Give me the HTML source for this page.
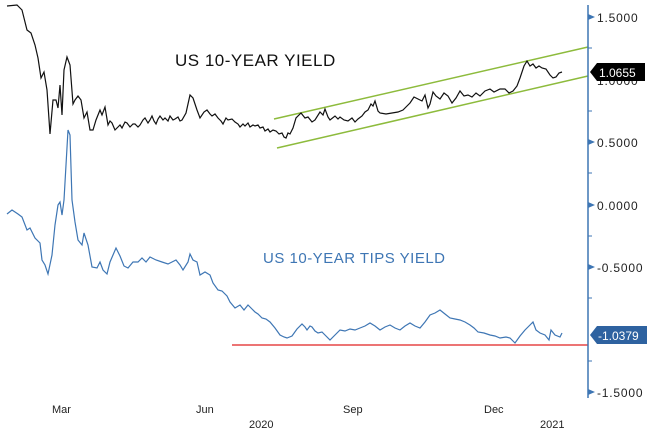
<!DOCTYPE html>
<html><head><style>body{margin:0;background:#fff}svg{display:block}</style></head><body>
<svg width="650" height="436" xmlns="http://www.w3.org/2000/svg" font-family="Liberation Sans, DejaVu Sans, sans-serif">
<rect width="650" height="436" fill="#fff"/>
<line x1="274" y1="119" x2="588" y2="47" stroke="#8dbb3c" stroke-width="1.5"/>
<line x1="277" y1="148" x2="588" y2="76" stroke="#8dbb3c" stroke-width="1.5"/>
<line x1="232" y1="345" x2="588" y2="345" stroke="#e02020" stroke-width="1.2"/>
<polyline fill="none" stroke="#111" stroke-width="1.2" points="7,6 17,5 22,10 27,30 31,33 35,45 38,58 41,78 44,72 47,90 50,134 53,100 56,100 58,108 60,85 62,115 64,70 67,57 70,65 73,104 75,100 78,96 81,100 84,118 87,112 90,130 93,130 96,120 100,110 102,115 105,107 108,125 110,121 112,123 115,130 118,127 120,125 122,128 125,122 127,123 130,127 133,124 135,124 138,127 140,125 143,120 145,118 148,123 150,120 152,116 154,121 156,124 158,119 160,116 163,120 165,118 168,121 170,116 173,120 175,119 178,117 180,121 182,120 186,113 190,95 193,98 197,110 200,118 204,112 207,110 210,114 212,116 215,114 218,118 221,121 223,124 226,118 228,120 232,119 235,122 238,124 240,127 243,124 245,126 248,123 250,127 253,125 255,126 258,125 260,128 263,127 265,131 268,129 270,132 273,130 276,131 279,134 282,133 284,137 286,138 288,133 290,134 293,128 296,118 301,113 305,118 308,117 312,122 315,120 320,112 323,115 325,109 328,117 330,120 335,116 338,119 340,117 344,120 348,121 352,118 355,122 358,119 362,116 365,112 368,110 371,104 373,106 375,101 378,111 380,113 386,114 392,113 398,112 403,110 407,106 410,103 414,97 418,99 422,101 425,95 428,108 430,104 433,92 436,96 440,99 444,93 448,96 452,103 456,98 460,91 464,96 468,95 472,97 476,93 480,96 485,91 490,89 494,92 500,89 505,89 509,93 513,91 517,86 520,78 524,66 527,61 530,66 533,64 536,68 539,66 542,68 546,69 550,75 553,78 556,77 559,73 562,72"/>
<polyline fill="none" stroke="#3e76b4" stroke-width="1.2" points="7,214 12,210 18,214 22,217 27,230 30,228 35,238 40,243 42,260 45,265 48,274 52,255 55,225 58,205 60,202 62,215 64,200 66,165 68,130 70,135 72,200 75,222 78,240 82,245 84,233 88,245 92,267 97,268 100,262 103,270 107,274 110,262 116,248 120,256 124,266 128,268 133,262 138,262 142,258 146,262 150,257 156,260 162,262 168,264 172,262 176,260 180,265 183,270 188,262 190,254 193,260 197,262 200,275 205,272 210,275 213,283 218,290 222,291 227,296 230,302 235,308 240,305 244,310 248,305 252,309 255,312 258,314 262,318 266,319 270,322 275,328 280,335 284,337 287,338 292,336 297,329 302,324 305,327 307,330 310,326 312,327 315,331 318,333 322,332 326,336 330,340 335,335 340,330 345,331 350,329 355,330 360,328 365,326 370,323 375,326 380,330 385,327 390,325 395,328 400,330 405,326 410,323 415,326 420,328 425,322 430,315 435,313 440,310 445,314 450,318 455,319 460,320 465,322 470,325 474,328 478,332 484,333 490,335 495,336 500,338 506,337 510,338 515,343 520,336 525,330 530,325 533,322 536,330 540,333 545,335 549,340 551,330 555,335 560,337 562,333"/>
<line x1="588" y1="5" x2="588" y2="398" stroke="#3e76b4" stroke-width="1.5"/>
<g fill="#3e76b4">
<polygon points="588,14 595,17 588,20"/><polygon points="588,139 595,142 588,145"/><polygon points="588,202 595,205 588,208"/><polygon points="588,264 595,267 588,270"/><polygon points="588,389 595,392 588,395"/>
</g>
<g stroke="#3e76b4"><line x1="588" y1="48" x2="592" y2="48"/><line x1="588" y1="111" x2="592" y2="111"/><line x1="588" y1="173" x2="592" y2="173"/><line x1="588" y1="236" x2="592" y2="236"/><line x1="588" y1="298" x2="592" y2="298"/><line x1="588" y1="361" x2="592" y2="361"/></g>
<g font-size="12" fill="#222" letter-spacing="0.8">
<text x="597" y="22">1.5000</text><text x="597" y="85">1.0000</text><text x="597" y="147">0.5000</text><text x="597" y="210">0.0000</text><text x="597" y="272">-0.5000</text><text x="597" y="397">-1.5000</text>
</g>
<polygon points="590,72 597,63 645,63 645,81 597,81" fill="#000"/>
<text x="599" y="77" font-size="12" fill="#fff">1.0655</text>
<polygon points="590,335 597,326 647,326 647,344 597,344" fill="#2e62a0"/>
<text x="598" y="340" font-size="12" fill="#fff">-1.0379</text>
<text x="175" y="66" font-size="17" fill="#111" letter-spacing="0.5">US 10-YEAR YIELD</text>
<text x="263" y="263" font-size="15" fill="#3e76b4" letter-spacing="0.5">US 10-YEAR TIPS YIELD</text>
<g font-size="11" fill="#222">
<text x="52" y="413">Mar</text><text x="196" y="413">Jun</text><text x="343" y="413">Sep</text><text x="484" y="413">Dec</text>
<text x="249" y="428">2020</text><text x="540" y="428">2021</text>
</g>
</svg>
</body></html>
